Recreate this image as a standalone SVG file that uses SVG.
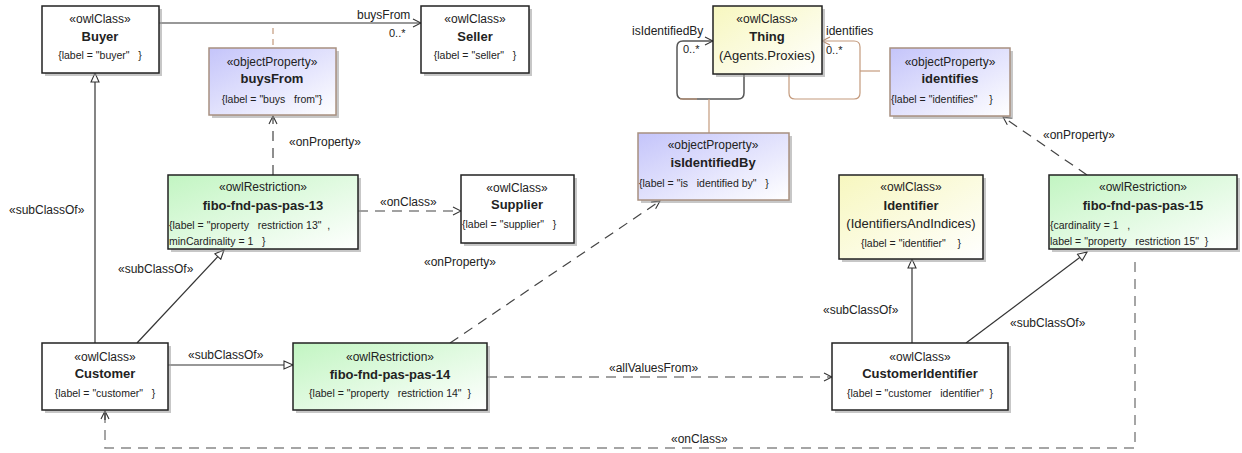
<svg xmlns="http://www.w3.org/2000/svg" width="1242" height="453" viewBox="0 0 1242 453">
<style>
text{font-family:"Liberation Sans",Arial,sans-serif;fill:#222}
.st{font-size:12px;text-anchor:middle}
.nm{font-size:13px;font-weight:bold;text-anchor:middle}
.sub{font-size:13px;text-anchor:middle}
.lb{font-size:10.5px}
.lbc{font-size:10.5px;text-anchor:middle}
.cl{font-size:12px}
.box{stroke:#222;stroke-width:1.5}
.cls{fill:#fff}
.op{fill:url(#gOP);stroke:#a89080;stroke-width:1.5}
.rs{fill:url(#gRS)}
.ye{fill:url(#gYE)}
.sh{fill:#999;opacity:.55}
.ln{fill:none;stroke:#333;stroke-width:1.2}
.ds{fill:none;stroke:#444;stroke-width:1.2;stroke-dasharray:10 7}
.dl{fill:none;stroke:#888;stroke-width:1.5;stroke-dasharray:10 7}
.or{fill:none;stroke:#c49a7c;stroke-width:1.2}
.lp{fill:none;stroke:#555;stroke-width:1.5}
</style>
<defs>
<linearGradient id="gOP" x1="0" y1="0" x2="1" y2="1"><stop offset="0" stop-color="#c4c4fa"/><stop offset="1" stop-color="#ffffff"/></linearGradient>
<linearGradient id="gRS" x1="0" y1="0" x2="1" y2="1"><stop offset="0" stop-color="#c2f5c2"/><stop offset="1" stop-color="#ffffff"/></linearGradient>
<linearGradient id="gYE" x1="0" y1="0" x2="1" y2="1"><stop offset="0" stop-color="#f7f7bf"/><stop offset="1" stop-color="#ffffff"/></linearGradient>
<marker id="tri" markerWidth="12" markerHeight="10" refX="10" refY="5" orient="auto" markerUnits="userSpaceOnUse"><path d="M1,1 L10,5 L1,9 Z" fill="#fff" stroke="#333" stroke-width="1.1"/></marker>
<marker id="opn" markerWidth="10" markerHeight="10" refX="9" refY="5" orient="auto" markerUnits="userSpaceOnUse"><path d="M1,1 L9,5 L1,9" fill="none" stroke="#333" stroke-width="1.1"/></marker>
<marker id="opo" markerWidth="10" markerHeight="10" refX="9" refY="5" orient="auto" markerUnits="userSpaceOnUse"><path d="M1,1 L9,5 L1,9" fill="none" stroke="#b88a6a" stroke-width="1.1"/></marker>
</defs>

<g id="connectors">
<path class="ln" d="M159,23 H421" marker-end="url(#opn)"/>
<text class="cl" x="357" y="19">buysFrom</text>
<text class="cl" x="389" y="37" style="font-size:11px">0..*</text>
<path class="or" d="M273,28 V46" stroke-dasharray="6 5"/>
<path class="ds" d="M273,175 V116" marker-end="url(#opn)"/>
<text class="cl" x="289" y="146">«onProperty»</text>
<path class="ds" d="M358,211 H461" marker-end="url(#opn)"/>
<text class="cl" x="380" y="206">«onClass»</text>
<path class="ln" d="M95,343 V73" marker-end="url(#tri)"/>
<text class="cl" x="9" y="214">«subClassOf»</text>
<path class="ln" d="M137,343 L224,250" marker-end="url(#tri)"/>
<text class="cl" x="118" y="273">«subClassOf»</text>
<path class="ln" d="M168,365 H293" marker-end="url(#tri)"/>
<text class="cl" x="188" y="359">«subClassOf»</text>
<path class="ds" d="M450,343 L660,201" marker-end="url(#opn)"/>
<text class="cl" x="424" y="266">«onProperty»</text>
<path class="ds" d="M487,377 H832" marker-end="url(#opn)"/>
<text class="cl" x="609" y="372">«allValuesFrom»</text>
<path class="dl" d="M1135,262 V448 H105 V413"/>
<path class="ln" d="M105,420 V411" marker-end="url(#opn)"/>
<text class="cl" x="671" y="443">«onClass»</text>
<path class="ln" d="M912,343 V259" marker-end="url(#tri)"/>
<text class="cl" x="823" y="314">«subClassOf»</text>
<path class="ln" d="M966,343 L1087,252" marker-end="url(#tri)"/>
<text class="cl" x="1010" y="327">«subClassOf»</text>
<path class="ds" d="M1087,175 L1003,117" marker-end="url(#opn)"/>
<text class="cl" x="1043" y="139">«onProperty»</text>
<path class="lp" d="M744,74 V93 Q744,99 738,99 H683 Q677,99 677,93 V47 Q677,41 683,41 H713" marker-end="url(#opn)"/>
<path class="or" d="M680,99 H697"/>
<text class="cl" x="632" y="35">isIdentifiedBy</text>
<text class="cl" x="683" y="53" style="font-size:11px">0..*</text>
<path class="or" d="M709,99 V133"/>
<path class="or" d="M789,74 V93 Q789,99 795,99 H854 Q860,99 860,93 V47 Q860,41 854,41 H822" marker-end="url(#opo)"/>
<text class="cl" x="826" y="35">identifies</text>
<text class="cl" x="826" y="54" style="font-size:11px">0..*</text>
<path class="or" d="M860,71 H880"/>
</g>

<g id="Buyer">
<rect class="sh" x="45" y="9" width="117" height="67"/>
<rect class="box cls" x="42" y="6" width="117" height="67"/>
<text class="st" x="100" y="23">«owlClass»</text>
<text class="nm" x="100" y="41">Buyer</text>
<text class="lbc" x="100" y="59" xml:space="preserve">{label = "buyer"   }</text>
</g>

<g id="Seller">
<rect class="sh" x="424" y="9" width="108" height="67"/>
<rect class="box cls" x="421" y="6" width="108" height="67"/>
<text class="st" x="475" y="23">«owlClass»</text>
<text class="nm" x="475" y="41">Seller</text>
<text class="lbc" x="475" y="59" xml:space="preserve">{label = "seller"   }</text>
</g>

<g id="buysFromProp">
<rect class="sh" x="212" y="51" width="127" height="67"/>
<rect class="op" x="209" y="48" width="127" height="67"/>
<text class="st" x="272" y="66">«objectProperty»</text>
<text class="nm" x="272" y="83">buysFrom</text>
<text class="lbc" x="272" y="103" xml:space="preserve">{label = "buys   from"}</text>
</g>

<g id="Thing">
<rect class="sh" x="716" y="9" width="109" height="68"/>
<rect class="box ye" x="713" y="6" width="109" height="68"/>
<text class="st" x="767" y="23">«owlClass»</text>
<text class="nm" x="767" y="41">Thing</text>
<text class="sub" x="767" y="60">(Agents.Proxies)</text>
</g>

<g id="identifiesProp">
<rect class="sh" x="893" y="51" width="120" height="68"/>
<rect class="op" x="890" y="48" width="120" height="68"/>
<text class="st" x="950" y="66">«objectProperty»</text>
<text class="nm" x="950" y="83">identifies</text>
<text class="lb" x="891" y="103" xml:space="preserve">{label = "identifies"    }</text>
</g>

<g id="isIdentifiedByProp">
<rect class="sh" x="641" y="136" width="151" height="67"/>
<rect class="op" x="638" y="133" width="151" height="67"/>
<text class="st" x="713" y="149">«objectProperty»</text>
<text class="nm" x="713" y="167">isIdentifiedBy</text>
<text class="lb" x="639" y="187" xml:space="preserve">{label = "is   identified by"   }</text>
</g>

<g id="fibo13">
<rect class="sh" x="171" y="178" width="190" height="74"/>
<rect class="box rs" x="168" y="175" width="190" height="74"/>
<text class="st" x="263" y="191">«owlRestriction»</text>
<text class="nm" x="263" y="210">fibo-fnd-pas-pas-13</text>
<text class="lb" x="169" y="229" xml:space="preserve">{label = "property   restriction 13"  ,</text>
<text class="lb" x="169" y="245" xml:space="preserve">minCardinality = 1   }</text>
</g>

<g id="Supplier">
<rect class="sh" x="464" y="178" width="113" height="68"/>
<rect class="box cls" x="461" y="175" width="113" height="68"/>
<text class="st" x="517" y="192">«owlClass»</text>
<text class="nm" x="517" y="209">Supplier</text>
<text class="lb" x="462" y="228" xml:space="preserve">{label = "supplier"   }</text>
</g>

<g id="Identifier">
<rect class="sh" x="842" y="178" width="144" height="84"/>
<rect class="box ye" x="839" y="175" width="144" height="84"/>
<text class="st" x="911" y="191">«owlClass»</text>
<text class="nm" x="911" y="210">Identifier</text>
<text class="sub" x="911" y="228">(IdentifiersAndIndices)</text>
<text class="lbc" x="911" y="247" xml:space="preserve">{label = "identifier"    }</text>
</g>

<g id="fibo15">
<rect class="sh" x="1052" y="178" width="188" height="74"/>
<rect class="box rs" x="1049" y="175" width="188" height="74"/>
<text class="st" x="1143" y="191">«owlRestriction»</text>
<text class="nm" x="1143" y="210">fibo-fnd-pas-pas-15</text>
<text class="lb" x="1050" y="229" xml:space="preserve">{cardinality = 1   ,</text>
<text class="lb" x="1050" y="245" xml:space="preserve">label = "property   restriction 15"  }</text>
</g>

<g id="Customer">
<rect class="sh" x="45" y="346" width="126" height="67"/>
<rect class="box cls" x="42" y="343" width="126" height="67"/>
<text class="st" x="105" y="361">«owlClass»</text>
<text class="nm" x="105" y="378">Customer</text>
<text class="lbc" x="105" y="397" xml:space="preserve">{label = "customer"   }</text>
</g>

<g id="fibo14">
<rect class="sh" x="296" y="346" width="194" height="67"/>
<rect class="box rs" x="293" y="343" width="194" height="67"/>
<text class="st" x="390" y="361">«owlRestriction»</text>
<text class="nm" x="390" y="379">fibo-fnd-pas-pas-14</text>
<text class="lbc" x="390" y="397" xml:space="preserve">{label = "property   restriction 14"  }</text>
</g>

<g id="CustomerIdentifier">
<rect class="sh" x="835" y="346" width="176" height="67"/>
<rect class="box cls" x="832" y="343" width="176" height="67"/>
<text class="st" x="920" y="361">«owlClass»</text>
<text class="nm" x="920" y="378">CustomerIdentifier</text>
<text class="lbc" x="920" y="397" xml:space="preserve">{label = "customer   identifier"  }</text>
</g>
</svg>
